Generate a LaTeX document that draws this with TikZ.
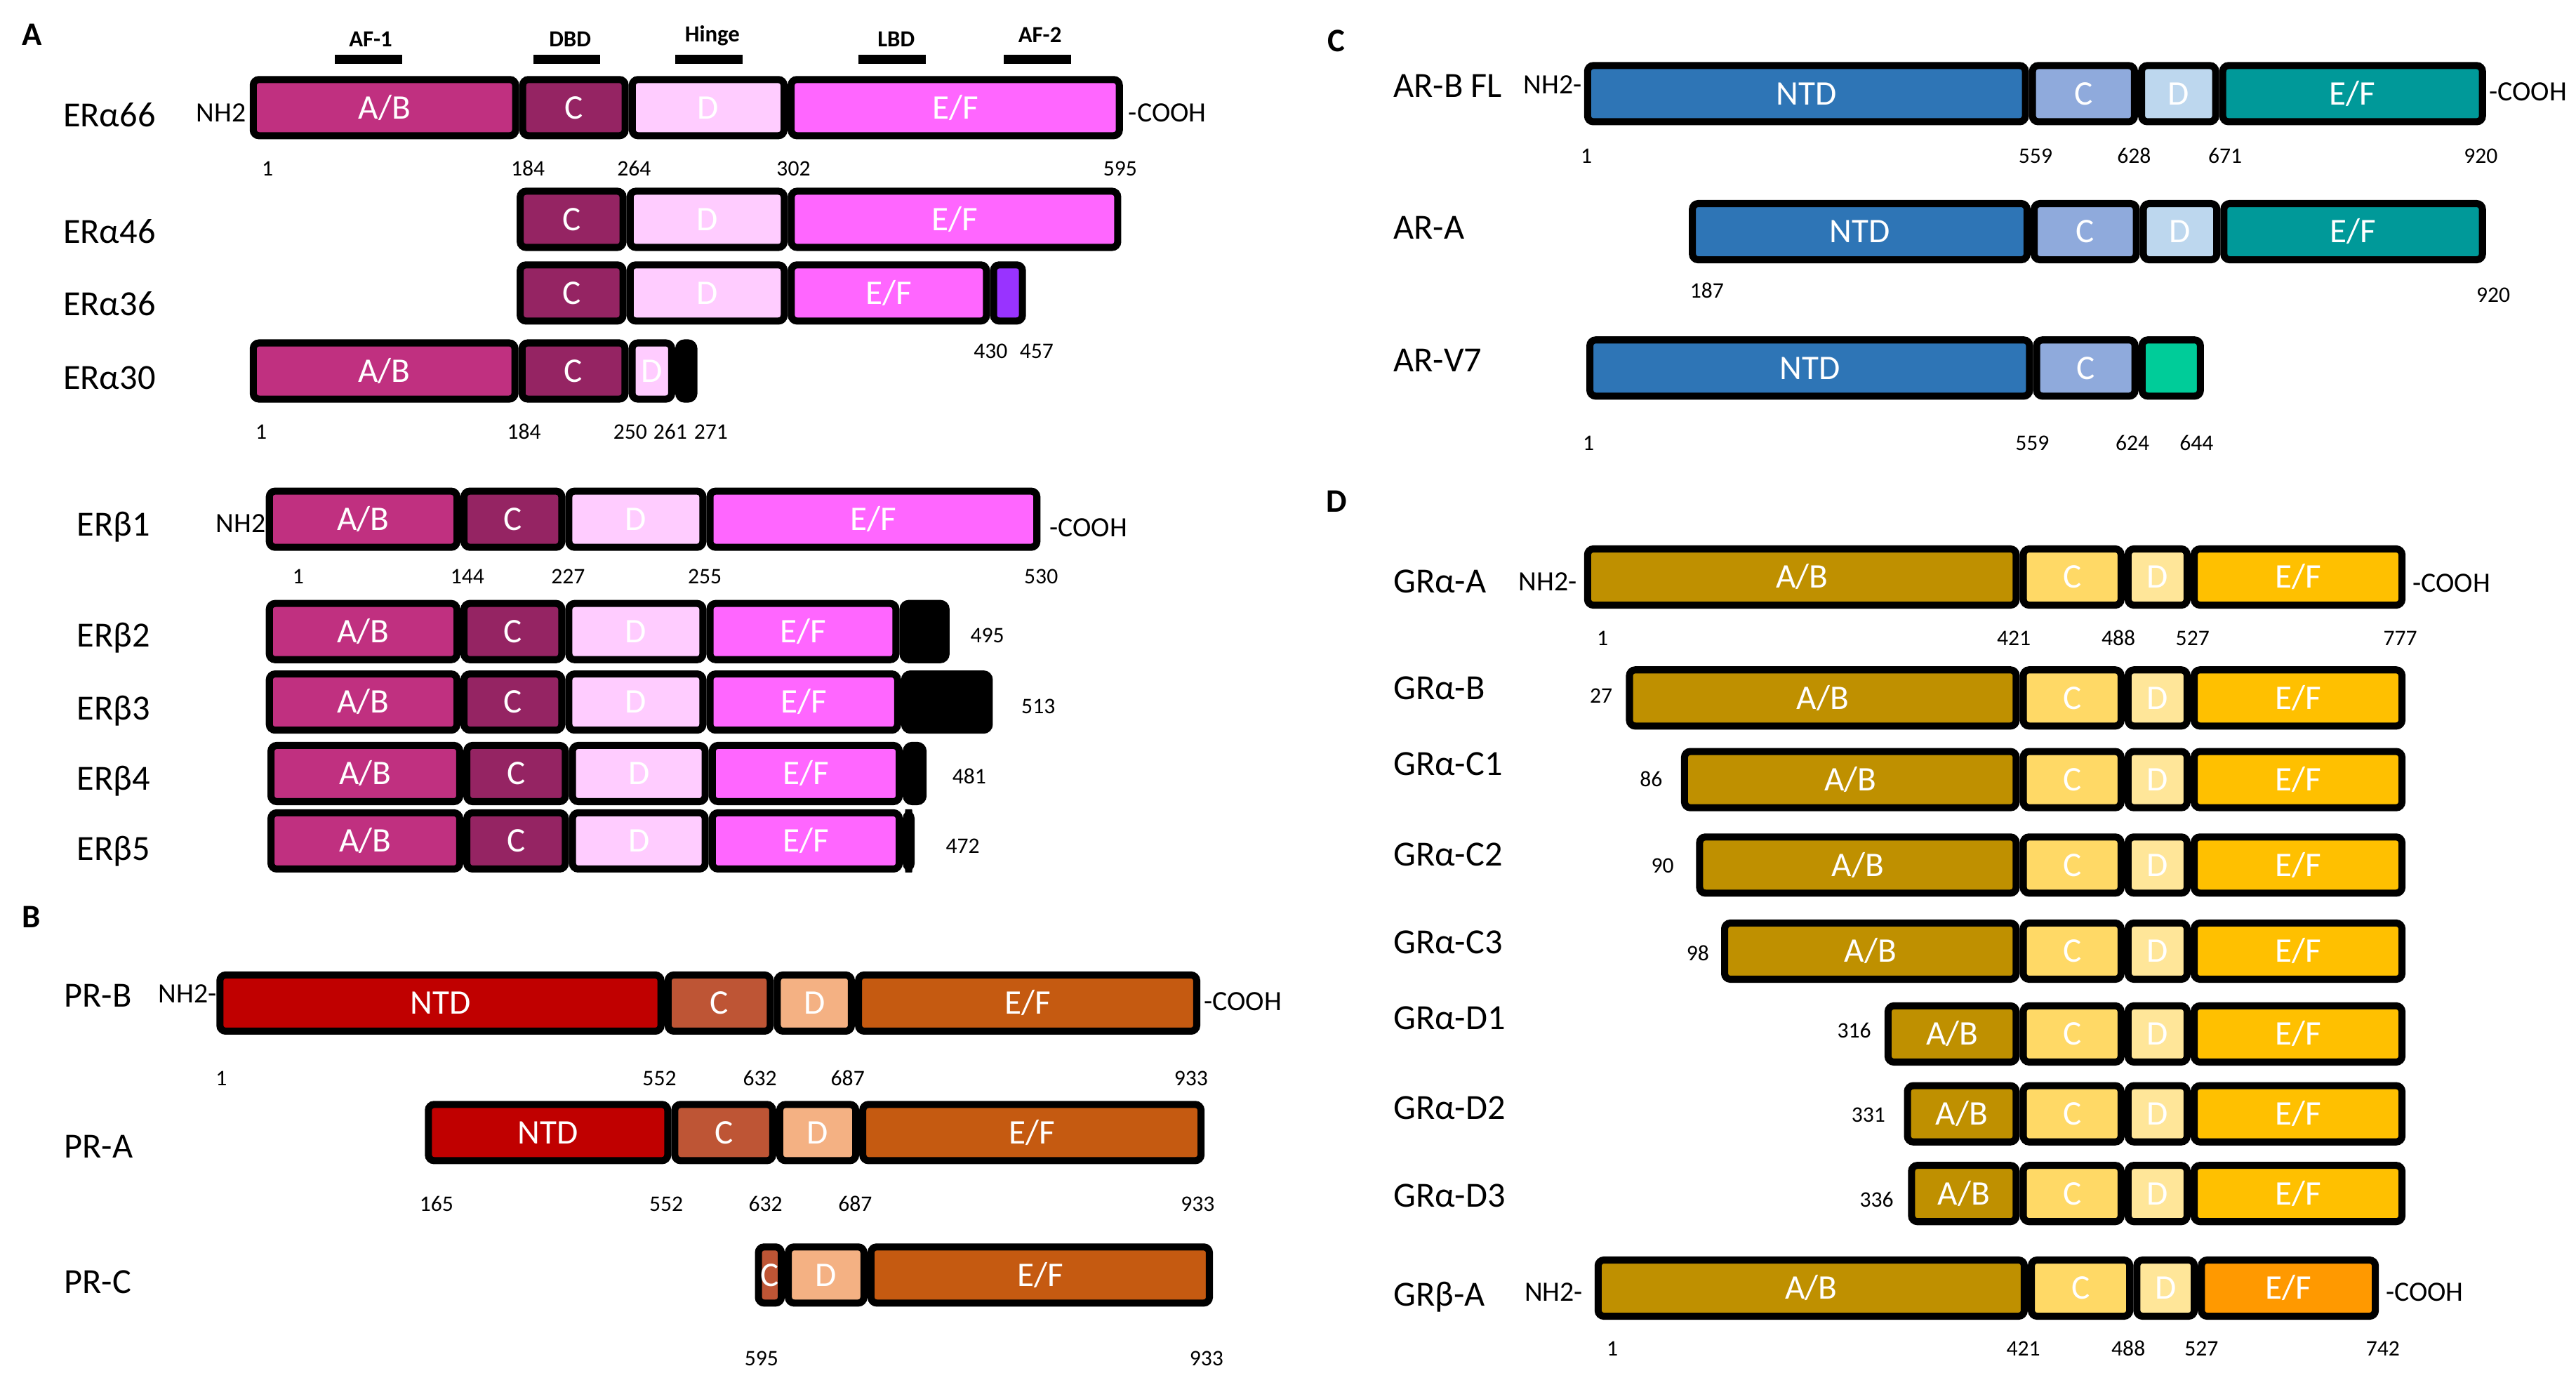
\documentclass[tikz,border=0pt]{standalone}
\usepackage{fontspec}
\setmainfont{Carlito}
\definecolor{erab}{HTML}{C03080}
\definecolor{erc}{HTML}{952463}
\definecolor{erd}{HTML}{FFCCFF}
\definecolor{eref}{HTML}{FF66FF}
\definecolor{erp}{HTML}{9933FF}
\definecolor{prntd}{HTML}{C00000}
\definecolor{prc}{HTML}{BE5535}
\definecolor{prd}{HTML}{F4B183}
\definecolor{pref}{HTML}{C55A11}
\definecolor{arntd}{HTML}{2E75B6}
\definecolor{arc}{HTML}{8FAADC}
\definecolor{ard}{HTML}{BDD7EE}
\definecolor{aref}{HTML}{009999}
\definecolor{arv}{HTML}{00CC99}
\definecolor{grab}{HTML}{BF9000}
\definecolor{grc}{HTML}{FFD966}
\definecolor{grd}{HTML}{FFE699}
\definecolor{gref}{HTML}{FFC000}
\definecolor{grbef}{HTML}{FF9900}
\newcommand{\dseg}[6]{%
  \pgfmathsetmacro{\segw}{#3-#2-4.3}%
  \pgfmathsetmacro{\segx}{(#2+#3)/2}%
  \node[segbox, fill=#5, minimum width=\segw pt] (#1) at (\segx,#4) {#6};}
\newcommand{\dnum}[4]{\node[numtxt] (#1) at (#2,#3) {#4};}
\newcommand{\dlab}[4]{\node[labtxt] (#1) at (#2,#3) {#4};}
\begin{document}
\begin{tikzpicture}[x=1pt,y=-1pt,
  segbox/.style={draw=black, line width=4.3pt, rounded corners=3.5pt, inner sep=0pt,
    minimum height=34.2pt, text=white, font=\fontsize{21}{21}\selectfont,
    text height=13.5pt, text depth=0pt},
  numtxt/.style={inner sep=0pt, font=\fontsize{13.5}{14}\selectfont, text height=8.7pt, text depth=0pt},
  labtxt/.style={inner sep=0pt, anchor=base west, font=\fontsize{21.5}{22}\selectfont},
  endtxt/.style={inner sep=0pt, font=\fontsize{17}{17}\selectfont, text height=11pt, text depth=0pt},
  paneltxt/.style={inner sep=0pt, font=\fontsize{20}{20}\selectfont\bfseries, text height=13pt, text depth=0pt},
  domtxt/.style={inner sep=0pt, anchor=base, font=\fontsize{14}{14}\selectfont\bfseries},
  dombar/.style={fill=black, inner sep=0pt, minimum height=5.5pt, minimum width=41pt}
]
\useasboundingbox (0,0) rectangle (1568,847);
\fill[white] (0,0) rectangle (1568,847);

% panel letters
\node[paneltxt] (pA) at (19.6,21) {A};
\node[paneltxt] (pB) at (19,558) {B};
\node[paneltxt] (pC) at (813.5,25) {C};
\node[paneltxt] (pD) at (813.6,305.3) {D};

% domain labels
\node[domtxt] (taf1) at (225.6,28.5) {AF-1};
\node[domtxt] (tdbd) at (347,28.5) {DBD};
\node[domtxt] (thin) at (433.6,25.3) {Hinge};
\node[domtxt] (tlbd) at (545.5,28.5) {LBD};
\node[domtxt] (taf2) at (633,26) {AF-2};
\node[dombar] (baf1) at (224.5,36) {};
\node[dombar] (bdbd) at (345,36) {};
\node[dombar] (bhin) at (431.5,36) {};
\node[dombar] (blbd) at (543,36) {};
\node[dombar] (baf2) at (631.5,36) {};

% ===== Panel A: ER alpha =====
\dlab{lA66}{38.3}{77}{ERα66}
\node[endtxt, anchor=east] (nhA66) at (150,68.7) {NH2};
\dseg{a66ab}{152}{316}{65.5}{erab}{A/B}
\dseg{a66c}{316}{382.7}{65.5}{erc}{C}
\dseg{a66d}{382.7}{479.4}{65.5}{erd}{D}
\dseg{a66ef}{479.4}{683.5}{65.5}{eref}{E/F}
\node[endtxt, anchor=west] (coA66) at (686.8,68.7) {-COOH};
\dnum{n66a}{162.8}{102.5}{1}
\dnum{n66b}{321.3}{102.5}{184}
\dnum{n66c}{386}{102.5}{264}
\dnum{n66d}{483}{102.5}{302}
\dnum{n66e}{681.8}{102.5}{595}

\dlab{lA46}{38.3}{148}{ERα46}
\dseg{a46c}{314.5}{381.4}{133.5}{erc}{C}
\dseg{a46d}{381.4}{479.5}{133.5}{erd}{D}
\dseg{a46ef}{479.5}{682.5}{133.5}{eref}{E/F}

\dlab{lA36}{38.3}{192}{ERα36}
\dseg{a36c}{314.5}{381.4}{178.3}{erc}{C}
\dseg{a36d}{381.4}{479.5}{178.3}{erd}{D}
\dseg{a36ef}{479.5}{602.6}{178.3}{eref}{E/F}
\dseg{a36p}{602.6}{624.5}{178.3}{erp}{}
\dnum{n36a}{603}{213.6}{430}
\dnum{n36b}{631}{213.6}{457}

\dlab{lA30}{38.3}{237}{ERα30}
\dseg{a30ab}{152}{315.6}{225.8}{erab}{A/B}
\dseg{a30c}{315.6}{382.6}{225.8}{erc}{C}
\dseg{a30d}{382.6}{411}{225.8}{erd}{D}
\dseg{a30k}{411}{424.5}{225.8}{black}{}
\dnum{n30a}{159}{262.8}{1}
\dnum{n30b}{319}{262.8}{184}
\dnum{n30c}{383.6}{262.8}{250}
\dnum{n30d}{408}{262.8}{261}
\dnum{n30e}{432.7}{262.8}{271}

% ===== Panel A: ER beta =====
\dlab{lB1}{46.6}{326}{ERβ1}
\node[endtxt, anchor=east] (nhB1) at (161.8,318.7) {NH2};
\dseg{b1ab}{161.8}{280.3}{316}{erab}{A/B}
\dseg{b1c}{280.3}{344.1}{316}{erc}{C}
\dseg{b1d}{344.1}{430}{316}{erd}{D}
\dseg{b1ef}{430}{633.3}{316}{eref}{E/F}
\node[endtxt, anchor=west] (coB1) at (638.7,321) {-COOH};
\dnum{nb1a}{181.5}{351}{1}
\dnum{nb1b}{284.5}{351}{144}
\dnum{nb1c}{345.8}{351}{227}
\dnum{nb1d}{429}{351}{255}
\dnum{nb1e}{633.7}{351}{530}

\dlab{lB2}{46.6}{393.5}{ERβ2}
\dseg{b2ab}{161.8}{280.3}{384.4}{erab}{A/B}
\dseg{b2c}{280.3}{344.1}{384.4}{erc}{C}
\dseg{b2d}{344.1}{430}{384.4}{erd}{D}
\dseg{b2ef}{430}{547.5}{384.4}{eref}{E/F}
\dseg{b2k}{547.5}{578}{384.4}{black}{}
\dnum{nb2}{601}{386.7}{495}

\dlab{lB3}{46.6}{438}{ERβ3}
\dseg{b3ab}{161.8}{280.3}{427.3}{erab}{A/B}
\dseg{b3c}{280.3}{344.1}{427.3}{erc}{C}
\dseg{b3d}{344.1}{430}{427.3}{erd}{D}
\dseg{b3ef}{430}{548.5}{427.3}{eref}{E/F}
\dseg{b3k}{548.5}{604.3}{427.3}{black}{}
\dnum{nb3}{632}{429.8}{513}

\dlab{lB4}{46.6}{481}{ERβ4}
\dseg{b4ab}{162.8}{282}{470.8}{erab}{A/B}
\dseg{b4c}{282}{346.3}{470.8}{erc}{C}
\dseg{b4d}{346.3}{431.4}{470.8}{erd}{D}
\dseg{b4ef}{431.4}{549.5}{470.8}{eref}{E/F}
\dseg{b4k}{549.5}{564}{470.8}{black}{}
\dnum{nb4}{590}{472.8}{481}

\dlab{lB5}{46.6}{523.5}{ERβ5}
\dseg{b5ab}{162.8}{282}{511.8}{erab}{A/B}
\dseg{b5c}{282}{346.3}{511.8}{erc}{C}
\dseg{b5d}{346.3}{431.4}{511.8}{erd}{D}
\dseg{b5ef}{431.4}{549.5}{511.8}{eref}{E/F}
\dseg{b5k}{549.5}{556.7}{511.8}{black}{}
\dnum{nb5}{586}{515}{472}

% ===== Panel B: PR =====
\dlab{lPB}{38.9}{613}{PR-B}
\node[endtxt, anchor=east] (nhPB) at (132,605) {NH2-};
\dseg{pbn}{131.7}{404.5}{610.5}{prntd}{NTD}
\dseg{pbc}{404.5}{471}{610.5}{prc}{C}
\dseg{pbd}{471}{520.4}{610.5}{prd}{D}
\dseg{pbef}{520.4}{730.6}{610.5}{pref}{E/F}
\node[endtxt, anchor=west] (coPB) at (732.7,609.5) {-COOH};
\dnum{npba}{134.7}{656.5}{1}
\dnum{npbb}{401.4}{656.5}{552}
\dnum{npbc}{462.5}{656.5}{632}
\dnum{npbd}{516}{656.5}{687}
\dnum{npbe}{725}{656.5}{933}

\dlab{lPA}{38.9}{704.7}{PR-A}
\dseg{pan}{258.6}{408.6}{689.3}{prntd}{NTD}
\dseg{pac}{408.6}{472.5}{689.3}{prc}{C}
\dseg{pad}{472.5}{523}{689.3}{prd}{D}
\dseg{paef}{523}{733.2}{689.3}{pref}{E/F}
\dnum{npaa}{265.7}{733}{165}
\dnum{npab}{405.5}{733}{552}
\dnum{npac}{466}{733}{632}
\dnum{npad}{520.5}{733}{687}
\dnum{npae}{729}{733}{933}

\dlab{lPC}{38.9}{787.4}{PR-C}
\dseg{pcc}{459.5}{477.7}{776}{prc}{C}
\dseg{pcd}{477.7}{528}{776}{prd}{D}
\dseg{pcef}{528}{738.3}{776}{pref}{E/F}
\dnum{npca}{463.5}{826.7}{595}
\dnum{npcb}{734.4}{826.7}{933}

% ===== Panel C: AR =====
\dlab{lARB}{848}{59.3}{AR-B FL}
\node[endtxt, anchor=east] (nhAR) at (963,51.4) {NH2-};
\dseg{arbn}{964.2}{1235}{57}{arntd}{NTD}
\dseg{arbc}{1235}{1301.4}{57}{arc}{C}
\dseg{arbd}{1301.4}{1350.8}{57}{ard}{D}
\dseg{arbef}{1350.8}{1513.2}{57}{aref}{E/F}
\node[endtxt, anchor=west] (coAR) at (1515,56) {-COOH};
\dnum{narba}{965.6}{94.9}{1}
\dnum{narbb}{1239}{94.9}{559}
\dnum{narbc}{1299}{94.9}{628}
\dnum{narbd}{1354.4}{94.9}{671}
\dnum{narbe}{1510}{94.9}{920}

\dlab{lARA}{848}{145.5}{AR-A}
\dseg{aran}{1028}{1236}{141}{arntd}{NTD}
\dseg{arac}{1236}{1302.5}{141}{arc}{C}
\dseg{arad}{1302.5}{1351.5}{141}{ard}{D}
\dseg{araef}{1351.5}{1513.2}{141}{aref}{E/F}
\dnum{naraa}{1039}{177}{187}
\dnum{narab}{1517.6}{179.7}{920}

\dlab{lARV}{848}{226.4}{AR-V7}
\dseg{arvn}{965.6}{1237.5}{224}{arntd}{NTD}
\dseg{arvc}{1237.5}{1301.7}{224}{arc}{C}
\dseg{arvg}{1301.7}{1341.5}{224}{arv}{}
\dnum{narva}{966.9}{269.6}{1}
\dnum{narvb}{1237}{269.6}{559}
\dnum{narvc}{1298}{269.6}{624}
\dnum{narvd}{1337}{269.6}{644}

% ===== Panel D: GR =====
\dlab{lGA}{848}{361}{GRα-A}
\node[endtxt, anchor=east] (nhGA) at (960,354) {NH2-};
\dseg{gaab}{964.2}{1229.4}{351.2}{grab}{A/B}
\dseg{gac}{1229.4}{1293.2}{351.2}{grc}{C}
\dseg{gad}{1293.2}{1333.4}{351.2}{grd}{D}
\dseg{gaef}{1333.4}{1464.2}{351.2}{gref}{E/F}
\node[endtxt, anchor=west] (coGA) at (1468.4,354.8) {-COOH};
\dnum{ngaa}{975.5}{388.7}{1}
\dnum{ngab}{1225.8}{388.7}{421}
\dnum{ngac}{1289.5}{388.7}{488}
\dnum{ngad}{1334.6}{388.7}{527}
\dnum{ngae}{1461}{388.7}{777}

\dlab{lGB}{848}{425.7}{GRα-B}
\dseg{gbab}{989.7}{1229.4}{424.8}{grab}{A/B}
\dseg{gbc}{1229.4}{1293.2}{424.8}{grc}{C}
\dseg{gbd}{1293.2}{1333.4}{424.8}{grd}{D}
\dseg{gbef}{1333.4}{1464.2}{424.8}{gref}{E/F}
\dnum{ngb}{974.6}{423.4}{27}

\dlab{lGC1}{848}{472}{GRα-C1}
\dseg{gc1ab}{1023.2}{1229.4}{474.5}{grab}{A/B}
\dseg{gc1c}{1229.4}{1293.2}{474.5}{grc}{C}
\dseg{gc1d}{1293.2}{1333.4}{474.5}{grd}{D}
\dseg{gc1ef}{1333.4}{1464.2}{474.5}{gref}{E/F}
\dnum{ngc1}{1005}{474.5}{86}

\dlab{lGC2}{848}{526.8}{GRα-C2}
\dseg{gc2ab}{1032.4}{1229.4}{526.5}{grab}{A/B}
\dseg{gc2c}{1229.4}{1293.2}{526.5}{grc}{C}
\dseg{gc2d}{1293.2}{1333.4}{526.5}{grd}{D}
\dseg{gc2ef}{1333.4}{1464.2}{526.5}{gref}{E/F}
\dnum{ngc2}{1012}{527}{90}

\dlab{lGC3}{848}{580.5}{GRα-C3}
\dseg{gc3ab}{1047.6}{1229.4}{578.9}{grab}{A/B}
\dseg{gc3c}{1229.4}{1293.2}{578.9}{grc}{C}
\dseg{gc3d}{1293.2}{1333.4}{578.9}{grd}{D}
\dseg{gc3ef}{1333.4}{1464.2}{578.9}{gref}{E/F}
\dnum{ngc3}{1033.4}{580.5}{98}

\dlab{lGD1}{848}{626.4}{GRα-D1}
\dseg{gd1ab}{1147.1}{1229.4}{629.3}{grab}{A/B}
\dseg{gd1c}{1229.4}{1293.2}{629.3}{grc}{C}
\dseg{gd1d}{1293.2}{1333.4}{629.3}{grd}{D}
\dseg{gd1ef}{1333.4}{1464.2}{629.3}{gref}{E/F}
\dnum{ngd1}{1128.6}{627.5}{316}

\dlab{lGD2}{848}{681.4}{GRα-D2}
\dseg{gd2ab}{1158.9}{1229.4}{677.9}{grab}{A/B}
\dseg{gd2c}{1229.4}{1293.2}{677.9}{grc}{C}
\dseg{gd2d}{1293.2}{1333.4}{677.9}{grd}{D}
\dseg{gd2ef}{1333.4}{1464.2}{677.9}{gref}{E/F}
\dnum{ngd2}{1137.3}{678.5}{331}

\dlab{lGD3}{848}{734.7}{GRα-D3}
\dseg{gd3ab}{1161.4}{1229.4}{726.4}{grab}{A/B}
\dseg{gd3c}{1229.4}{1293.2}{726.4}{grc}{C}
\dseg{gd3d}{1293.2}{1333.4}{726.4}{grd}{D}
\dseg{gd3ef}{1333.4}{1464.2}{726.4}{gref}{E/F}
\dnum{ngd3}{1142.3}{730.5}{336}

\dlab{lGBA}{848}{795}{GRβ-A}
\node[endtxt, anchor=east] (nhGBA) at (963.6,786.3) {NH2-};
\dseg{gbaab}{970.6}{1234.3}{784}{grab}{A/B}
\dseg{gbac}{1234.3}{1298.5}{784}{grc}{C}
\dseg{gbad}{1298.5}{1337.8}{784}{grd}{D}
\dseg{gbaef}{1337.8}{1448}{784}{grbef}{E/F}
\node[endtxt, anchor=west] (coGBA) at (1452,786.3) {-COOH};
\dnum{ngbaa}{981.4}{820.7}{1}
\dnum{ngbab}{1231.6}{820.7}{421}
\dnum{ngbac}{1295.5}{820.7}{488}
\dnum{ngbad}{1340}{820.7}{527}
\dnum{ngbae}{1450.4}{820.7}{742}
\end{tikzpicture}
\end{document}
